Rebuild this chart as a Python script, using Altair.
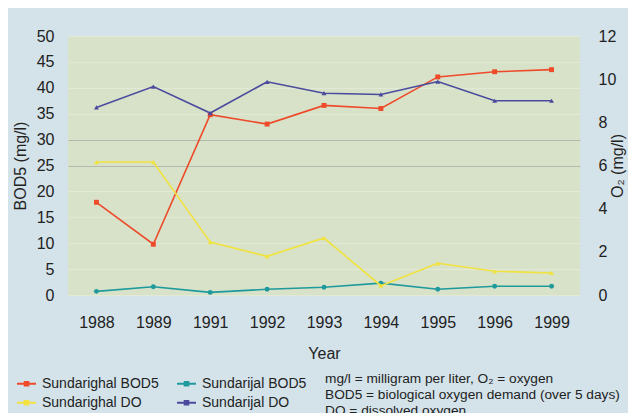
import altair as alt
import pandas as pd

years = ["1988", "1989", "1991", "1992", "1993", "1994", "1995", "1996", "1999"]
sundarighal_bod5 = [17.9, 9.8, 34.8, 33.0, 36.6, 36.0, 42.1, 43.1, 43.5]
sundarijal_bod5 = [0.7, 1.6, 0.5, 1.1, 1.5, 2.3, 1.1, 1.7, 1.7]
sundarighal_do = [6.16, 6.16, 2.45, 1.79, 2.64, 0.43, 1.47, 1.10, 1.02]
sundarijal_do = [8.69, 9.66, 8.43, 9.88, 9.35, 9.29, 9.89, 9.0, 9.0]

bod_names = ["Sundarighal BOD5", "Sundarijal BOD5"]
bod_colors = ["#ee4a2a", "#1f9a9c"]
bod_shapes = ["square", "circle"]
do_names = ["Sundarighal DO", "Sundarijal DO"]
do_colors = ["#f1e23e", "#4b4a9d"]
do_shapes = ["triangle-up", "triangle-up"]

notes = [
    "mg/l = milligram per liter,  O\u2082 = oxygen",
    "BOD5 = biological oxygen demand (over 5 days)",
    "DO = dissolved oxygen",
]


def long_table(names, shapes, series):
    rows = []
    for name, mk, vals in zip(names, shapes, series):
        for y, v in zip(years, vals):
            rows.append({"year": y, "series": name, "marker": mk, "value": v})
    return pd.DataFrame(rows)


df_left = long_table(bod_names, bod_shapes, [sundarighal_bod5, sundarijal_bod5])
df_right = long_table(do_names, do_shapes, [sundarighal_do, sundarijal_do])

FONT = "Liberation Sans"
TXT = "#222222"
SYMBOL = "M-1,0L1,0M-0.2,-0.2L0.2,-0.2L0.2,0.2L-0.2,0.2Z"


def legend(y, colpad):
    return alt.Legend(
        orient="none", legendX=-52, legendY=y, columns=2, title=None,
        symbolType=SYMBOL, symbolSize=361, symbolStrokeWidth=1.8, labelFontSize=14,
        labelFont=FONT, labelColor=TXT, labelOffset=5,
        columnPadding=colpad, symbolFillColor="transparent",
    )


shape = alt.Shape("marker:N", scale=None, legend=None)
x = alt.X("year:O", title="Year", scale=alt.Scale(padding=0.5),
          axis=alt.Axis(labelAngle=0, labelPadding=19, titlePadding=15, ticks=False, domain=False,
                        labelFontSize=16, titleFontSize=16, titleFontWeight="normal",
                        labelFont=FONT, titleFont=FONT, labelColor=TXT, titleColor=TXT))

yl = alt.Y("value:Q", title="BOD5 (mg/l)",
           scale=alt.Scale(domain=[0, 50], nice=False),
           axis=alt.Axis(orient="left", values=list(range(0, 55, 5)), ticks=False, domain=False,
                         labelPadding=14, titlePadding=8, labelFontSize=16, titleFontSize=16,
                         titleFontWeight="normal", labelFont=FONT, titleFont=FONT,
                         labelColor=TXT, titleColor=TXT,
                         gridColor={"condition": {"test": "datum.value == 25 || datum.value == 30",
                                                  "value": "#b3b9ab"}, "value": "#e2e9d6"},
                         gridWidth=1.2))
yr = alt.Y("value:Q", title="O\u2082 (mg/l)",
           scale=alt.Scale(domain=[0, 12], nice=False),
           axis=alt.Axis(orient="right", values=list(range(0, 13, 2)), ticks=False, domain=False, grid=False,
                         labelPadding=18, titlePadding=10, titleAngle=270, labelFontSize=16, titleFontSize=16,
                         titleFontWeight="normal", labelFont=FONT, titleFont=FONT,
                         labelColor=TXT, titleColor=TXT))

color_left = alt.Color("series:N", scale=alt.Scale(domain=bod_names, range=bod_colors),
                       legend=legend(337, 14))
color_right = alt.Color("series:N", scale=alt.Scale(domain=do_names, range=do_colors),
                        legend=legend(356, 31))

left_base = alt.Chart(df_left).encode(x=x, y=yl, color=color_left)
left = alt.layer(
    left_base.mark_line(strokeWidth=1.6),
    left_base.mark_point(filled=True, size=24, opacity=1).encode(shape=shape),
)
right_base = alt.Chart(df_right).encode(x=x, y=yr, color=color_right)
right = alt.layer(
    right_base.mark_line(strokeWidth=1.6),
    right_base.mark_point(filled=True, size=24, opacity=1).encode(shape=shape),
)

note = alt.Chart(pd.DataFrame({"t": ["\n".join(notes)]})).mark_text(
    align="left", baseline="top", font=FONT, fontSize=13.7, color=TXT, lineBreak="\n", lineHeight=16
).encode(text="t:N", x=alt.value(257), y=alt.value(336))

chart = alt.layer(left, right, note).resolve_scale(y="independent", color="independent").properties(
    width=512, height=259,
    background="#d4e2ea",
    padding={"left": 60, "top": 28, "right": 48, "bottom": 118},
    autosize=alt.AutoSizeParams(type="none"),
).configure_view(fill="#d7e2c9", stroke=None)

chart.save("out.html", embed_options={"renderer": "svg", "actions": False})
